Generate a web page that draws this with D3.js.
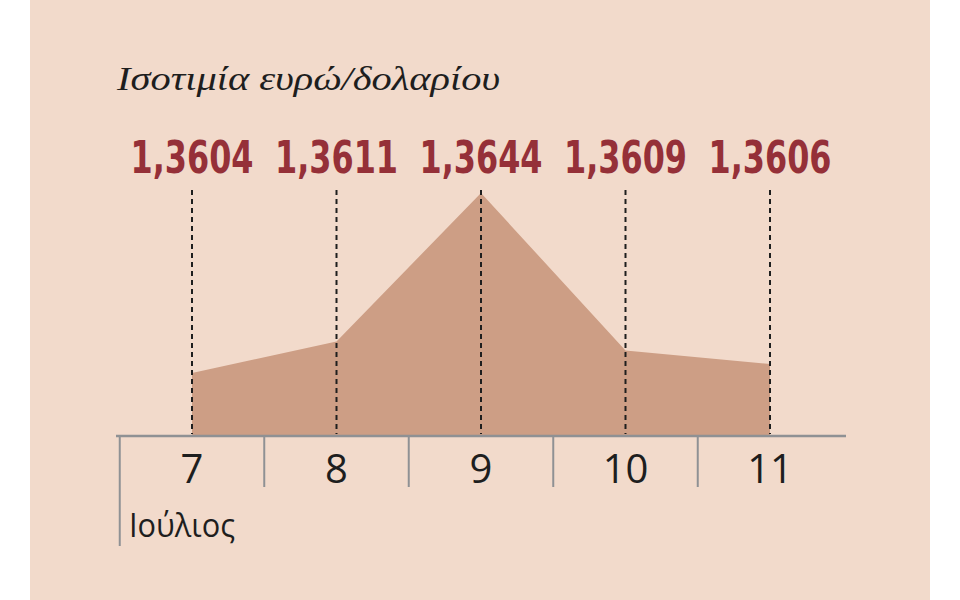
<!DOCTYPE html>
<html><head><meta charset="utf-8">
<script src="https://cdn.jsdelivr.net/npm/d3@7"></script>
<style>html,body{margin:0;padding:0;background:#fff;}svg{display:block;}</style>
</head><body>
<svg id="c" width="960" height="600"></svg>
<script>
const days = ["7", "8", "9", "10", "11"];
const rates = [1.3604, 1.3611, 1.3644, 1.3609, 1.3606];
const labels = ["1,3604", "1,3611", "1,3644", "1,3609", "1,3606"];
const title = "Ισοτιμία ευρώ/δολαρίου";
const monthLabel = "Ιούλιος";

const svg = d3.select("#c");
svg.append("rect").attr("x", 30).attr("y", 0).attr("width", 900).attr("height", 600).attr("fill", "#f2dacb");

const x = d3.scalePoint().domain(days).range([192, 770]);
const y = d3.scaleLinear().domain([1.3590, 1.3644]).range([436, 193]);

const data = days.map((d, i) => ({day: d, v: rates[i], label: labels[i]}));

svg.append("path").datum(data)
  .attr("fill", "#cd9e85")
  .attr("d", d3.area().x(d => x(d.day)).y0(y(1.3590)).y1(d => y(d.v)));

svg.selectAll("line.drop").data(data).join("line")
  .attr("class", "drop")
  .attr("x1", d => x(d.day)).attr("x2", d => x(d.day))
  .attr("y1", 190).attr("y2", 434)
  .attr("stroke", "#1e1e1e").attr("stroke-width", 2).attr("stroke-dasharray", "5,4");

// axis
const step = x.step();
svg.append("line").attr("x1", 116).attr("x2", 846).attr("y1", y(1.3590)).attr("y2", y(1.3590))
  .attr("stroke", "#8f9194").attr("stroke-width", 2.5);
const seps = days.map(d => x(d) - step / 2);
svg.selectAll("line.sep").data(seps).join("line")
  .attr("class", "sep")
  .attr("x1", d => d).attr("x2", d => d)
  .attr("y1", y(1.3590)).attr("y2", (d, i) => i === 0 ? 546 : 487)
  .attr("stroke", "#8f9194").attr("stroke-width", 2);

svg.selectAll("text.tick").data(data).join("text")
  .attr("class", "tick")
  .attr("x", d => x(d.day)).attr("y", 483)
  .attr("text-anchor", "middle")
  .attr("font-family", "Open Sans, sans-serif").attr("font-size", 40).attr("fill", "#1e1e1e")
  .text(d => d.day);

svg.append("text").attr("x", 129).attr("y", 537)
  .attr("font-family", "Open Sans, sans-serif").attr("font-size", 33).attr("fill", "#1e1e1e")
  .attr("textLength", 106).attr("lengthAdjust", "spacingAndGlyphs")
  .text(monthLabel);

svg.selectAll("text.val").data(data).join("text")
  .attr("class", "val")
  .attr("x", d => x(d.day)).attr("y", 173)
  .attr("text-anchor", "middle")
  .attr("font-family", "DejaVu Sans Condensed, DejaVu Sans, sans-serif")
  .attr("font-stretch", "condensed")
  .attr("font-weight", "bold").attr("font-size", 44).attr("fill", "#953038")
  .attr("textLength", 123).attr("lengthAdjust", "spacingAndGlyphs")
  .text(d => d.label);

svg.append("text").attr("x", 117).attr("y", 90)
  .attr("font-family", "Liberation Serif, serif").attr("font-style", "italic")
  .attr("font-size", 34).attr("fill", "#1e1e1e")
  .attr("textLength", 383).attr("lengthAdjust", "spacingAndGlyphs")
  .text(title);
</script>
</body></html>
